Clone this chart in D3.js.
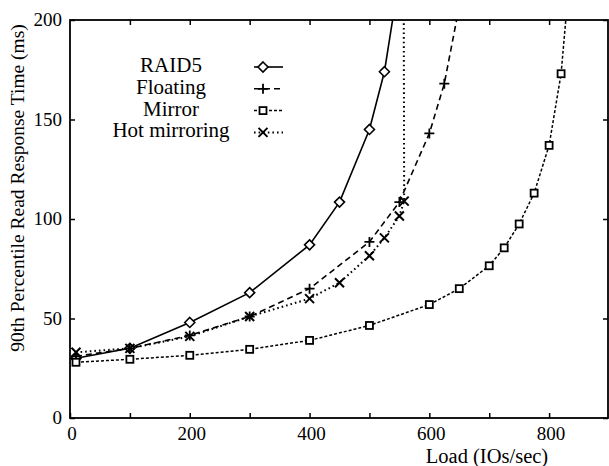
<!DOCTYPE html>
<html>
<head>
<meta charset="utf-8">
<script src="https://cdn.jsdelivr.net/npm/d3@7"></script>
<style>
  html, body { margin: 0; padding: 0; background: #fff; }
  svg { display: block; font-family: "Liberation Serif", "Times New Roman", serif; }
</style>
</head>
<body>
<svg id="chart" width="609" height="466"></svg>
<script>
// Load levels (IOs/sec) and 90th-percentile read response times (ms).
// The last point of each series lies above the plotted range and only
// carries the curve up through the top of the frame.
const raid5Load = [10, 100, 200, 300, 400, 450, 500, 525, 557];
const raid5Ms   = [30, 35, 48, 63, 87, 108.5, 145, 174, 235];

const floatingLoad = [10, 100, 200, 300, 400, 500, 550, 600, 625, 668];
const floatingMs   = [31, 35, 41.5, 51, 65, 88.5, 108.5, 143, 168, 235];

const mirrorLoad = [10, 100, 200, 300, 400, 500, 600, 650, 700, 725, 750, 775, 800, 820, 838];
const mirrorMs   = [28, 29.5, 31.5, 34.5, 39, 46.5, 57, 65, 76.5, 85.5, 97.5, 113, 137, 173, 235];

const hotLoad = [10, 100, 200, 300, 400, 450, 500, 525, 550, 558, 557];
const hotMs   = [33, 35, 41, 51, 60, 68, 81.5, 90.5, 101.5, 109, 240];

const seriesNames = ["RAID5", "Floating", "Mirror", "Hot mirroring"];
const xTicks = [0, 200, 400, 600, 800];
const yTicks = [0, 50, 100, 150, 200];

(function () {
const svg = d3.select("#chart");
const padL = 70, padR = 608, padT = 20, padB = 418;

const x = d3.scaleLinear().domain([0, 900]).range([padL, 609]);
const y = d3.scaleLinear().domain([0, 200]).range([padB, padT]);

const zip = (a, b) => a.map((v, i) => ({ load: v, ms: b[i] }));

const series = [
  { name: seriesNames[0], pts: zip(raid5Load, raid5Ms), dash: null, width: 1.6, marker: "diamond" },
  { name: seriesNames[1], pts: zip(floatingLoad, floatingMs), dash: "6,4", width: 1.6, marker: "plus" },
  { name: seriesNames[2], pts: zip(mirrorLoad, mirrorMs), dash: "3,2", width: 1.5, marker: "square" },
  { name: seriesNames[3], pts: zip(hotLoad, hotMs), dash: "1.6,3", width: 2, marker: "cross" }
];

svg.append("defs").append("clipPath").attr("id", "plot")
  .append("rect").attr("x", padL).attr("y", padT)
  .attr("width", padR - padL).attr("height", padB - padT);

// marker shapes
function drawMarker(g, kind, cx, cy) {
  if (kind === "diamond") {
    g.append("path")
      .attr("d", `M${cx},${cy - 5}L${cx + 5},${cy}L${cx},${cy + 5}L${cx - 5},${cy}Z`)
      .attr("fill", "#fff").attr("stroke", "#000").attr("stroke-width", 1.6);
  } else if (kind === "plus") {
    g.append("path")
      .attr("d", `M${cx - 5},${cy}H${cx + 5}M${cx},${cy - 5}V${cy + 5}`)
      .attr("fill", "none").attr("stroke", "#000").attr("stroke-width", 1.8);
  } else if (kind === "square") {
    g.append("rect").attr("x", cx - 3.5).attr("y", cy - 3.5)
      .attr("width", 7).attr("height", 7)
      .attr("fill", "#fff").attr("stroke", "#000").attr("stroke-width", 1.8);
  } else if (kind === "cross") {
    g.append("path")
      .attr("d", `M${cx - 4.5},${cy - 4.5}L${cx + 4.5},${cy + 4.5}M${cx - 4.5},${cy + 4.5}L${cx + 4.5},${cy - 4.5}`)
      .attr("fill", "none").attr("stroke", "#000").attr("stroke-width", 2);
  }
}

const line = d3.line().x(d => x(d.load)).y(d => y(d.ms));
const plot = svg.append("g").attr("clip-path", "url(#plot)");

series.forEach(s => {
  plot.append("path").datum(s.pts)
    .attr("d", line)
    .attr("fill", "none").attr("stroke", "#000")
    .attr("stroke-width", s.width)
    .attr("stroke-dasharray", s.dash);
});
series.forEach(s => {
  const g = plot.append("g");
  s.pts.filter(d => d.ms <= 200).forEach(d => drawMarker(g, s.marker, x(d.load), y(d.ms)));
});

// frame with inward ticks on all four sides
const frame = svg.append("g");
frame.append("g").attr("transform", `translate(0,${padB})`)
  .call(d3.axisBottom(x).tickValues(d3.range(0, 901, 100)).tickSize(-5).tickFormat(""))
  .call(g => g.select(".domain").remove());
frame.append("g").attr("transform", `translate(0,${padT})`)
  .call(d3.axisTop(x).tickValues(d3.range(100, 900, 100)).tickSize(-5).tickFormat(""))
  .call(g => g.select(".domain").remove());
frame.append("g").attr("transform", `translate(${padL},0)`)
  .call(d3.axisLeft(y).tickValues(yTicks).tickSize(-5).tickFormat(""))
  .call(g => g.select(".domain").remove());
frame.append("g").attr("transform", `translate(${padR},0)`)
  .call(d3.axisRight(y).tickValues(yTicks).tickSize(-5).tickFormat(""))
  .call(g => g.select(".domain").remove());
frame.selectAll(".tick line").attr("stroke", "#000").attr("stroke-width", 1.5);

frame.append("rect").attr("x", padL).attr("y", padT)
  .attr("width", padR - padL).attr("height", padB - padT)
  .attr("fill", "none").attr("stroke", "#000").attr("stroke-width", 1.8);

// tick labels
svg.append("g").selectAll("text").data(xTicks).join("text")
  .attr("x", d => x(d) + 2).attr("y", 440)
  .attr("text-anchor", "middle").attr("font-size", 19)
  .text(d => d);
svg.append("g").selectAll("text").data(yTicks).join("text")
  .attr("x", 62).attr("y", d => y(d) + 6)
  .attr("text-anchor", "end").attr("font-size", 19)
  .text(d => d);

// axis titles
svg.append("text").attr("x", 487).attr("y", 463)
  .attr("text-anchor", "middle").attr("font-size", 20.5)
  .text("Load (IOs/sec)");
svg.append("text")
  .attr("transform", "translate(24,188) rotate(-90)")
  .attr("text-anchor", "middle").attr("font-size", 19.5)
  .text("90th Percentile Read Response Time (ms)");

// legend
const legend = svg.append("g");
series.forEach((s, i) => {
  const yy = 67 + i * 21.8;
  legend.append("text").attr("x", 171).attr("y", yy + 5)
    .attr("text-anchor", "middle").attr("font-size", 21)
    .text(s.name);
  legend.append("line")
    .attr("x1", 254).attr("x2", 283).attr("y1", yy).attr("y2", yy)
    .attr("stroke", "#000").attr("stroke-width", s.width)
    .attr("stroke-dasharray", s.dash);
  drawMarker(legend, s.marker, 263, yy);
});
})();
</script>
</body>
</html>
